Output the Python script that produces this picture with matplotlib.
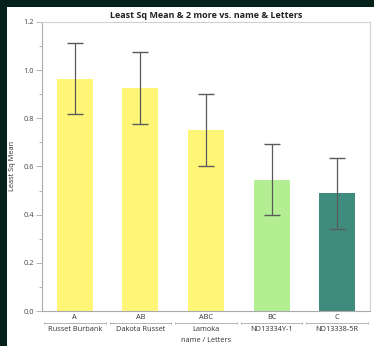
import matplotlib
matplotlib.use('Agg')
import matplotlib.pyplot as plt
from matplotlib.patches import Rectangle
from matplotlib.ticker import MultipleLocator

plt.rcParams['font.family'] = ['Open Sans', 'DejaVu Sans']

names = ['Russet Burbank', 'Dakota Russet', 'Lamoka', 'ND13334Y-1', 'ND13338-5R']
letters = ['A', 'AB', 'ABC', 'BC', 'C']
means = [0.964, 0.927, 0.752, 0.545, 0.488]
upper = [1.113, 1.075, 0.899, 0.693, 0.636]
lower = [0.816, 0.778, 0.603, 0.398, 0.340]
colors = ['#fff678', '#fff678', '#fff678', '#b3ef92', '#3f8c7e']

W, H = 374, 346
fig = plt.figure(figsize=(W / 100, H / 100), dpi=100, facecolor='#04221a')
fig.patches.append(Rectangle((7 / W, 0), 1, 1 - 7 / H, transform=fig.transFigure,
                             facecolor='white', edgecolor='none', zorder=-10))

ax = fig.add_axes([42 / W, 1 - 311 / H, 328 / W, 289 / H])
ax.set_zorder(5)
x = list(range(len(names)))
ax.bar(x, means, width=0.55, color=colors, zorder=2)
err = [[m - l for m, l in zip(means, lower)], [u - m for u, m in zip(upper, means)]]
ax.errorbar(x, means, yerr=err, fmt='none', ecolor='#5a5a5a', elinewidth=0.9,
            capsize=6, capthick=1.0, zorder=3)

ax.set_xlim(-0.5, 4.5)
ax.set_ylim(0, 1.2)
ax.yaxis.set_minor_locator(MultipleLocator(0.1))
ax.set_yticks([0, 0.2, 0.4, 0.6, 0.8, 1.0, 1.2])
ax.set_yticklabels(['0.0', '0.2', '0.4', '0.6', '0.8', '1.0', '1.2'])
ax.tick_params(axis='y', which='major', length=4, width=0.6, color='#aaaaaa',
               labelsize=5.3, labelcolor='#444444', pad=2)
ax.tick_params(axis='y', which='minor', length=2, width=0.6, color='#aaaaaa')
ax.set_xticks(x)
ax.set_xticklabels(letters)
ax.tick_params(axis='x', length=0, labelsize=5.3, labelcolor='#333333', pad=2)
for s in ax.spines.values():
    s.set_color('#d0d0d0')
    s.set_linewidth(0.8)
ax.spines['left'].set_color('#aaaaaa')
ax.spines['bottom'].set_color('#aaaaaa')

# group separators and names
for i, n in enumerate(names):
    ax.plot([i - 0.47, i + 0.47], [-0.05, -0.05], color='#aaaaaa', lw=0.6,
            clip_on=False)
    ax.plot([i - 0.47, i + 0.47], [-0.05, -0.05], ls='none', marker='|', ms=1.5,
            mew=0.6, color='#aaaaaa', clip_on=False)
    ax.text(i, -0.062, n, ha='center', va='top', fontsize=5.3, color='#333333')

fig.text(206 / W, 1 - 341 / H, 'name / Letters', ha='center', va='center',
         fontsize=5.3, color='#333333')
fig.text(12 / W, 1 - 166 / H, 'Least Sq Mean', rotation=90, ha='center',
         va='center', fontsize=5.3, color='#333333')
fig.text(206 / W, 1 - 15 / H, 'Least Sq Mean & 2 more vs. name & Letters',
         ha='center', va='center', fontsize=6.5, fontweight='bold', color='#222222')

fig.savefig('out.png', dpi=100, facecolor=fig.get_facecolor())
